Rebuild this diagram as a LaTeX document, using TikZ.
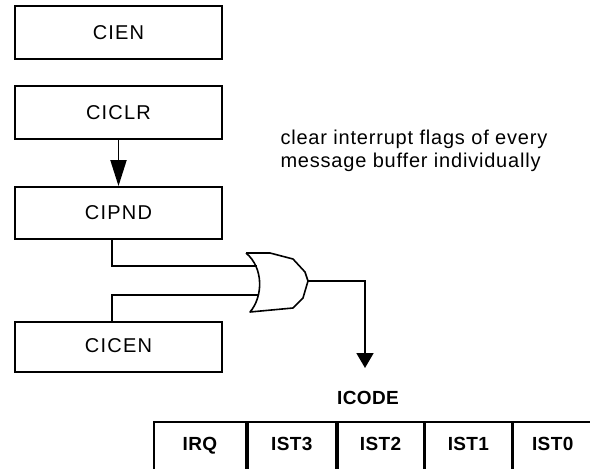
\documentclass[tikz,border=0pt]{standalone}
\usepackage{fontspec}
\setmainfont{Liberation Sans}
\newfontfamily\lblfont{Liberation Sans}[LetterSpace=6]
\newfontfamily\notefont{Liberation Sans}[LetterSpace=4]
\newfontfamily\boldfont{Liberation Sans Bold}[LetterSpace=2]
\usepackage{tikz}
\usetikzlibrary{arrows.meta,positioning}
\definecolor{ink}{RGB}{0,0,0}
\tikzset{
  reg/.style={draw=ink,line width=1.8pt,minimum width=207pt,inner sep=0pt,
    font=\lblfont\fontsize{20}{22}\selectfont},
  cell/.style={draw=ink,line width=1.8pt,minimum height=60pt,inner sep=0pt,
    text depth=16pt,font=\boldfont\fontsize{19}{21}\selectfont},
  wire/.style={line width=1.8pt,ink},
  gate/.style={line width=1.6pt,ink,line join=round},
  arr/.style={-{Triangle[length=26pt,width=16pt]},line width=1.8pt,ink},
  arrs/.style={-{Triangle[length=15pt,width=17pt]},line width=1.8pt,ink},
  note/.style={font=\notefont\fontsize{20}{23}\selectfont,align=left,text=ink},
}
\begin{document}
\begin{tikzpicture}[x=1pt,y=-1pt]
  \clip (0,0) rectangle (590,469);
  % control registers
  \node[reg,minimum height=53pt] (cien) at (118.5,32.5) {CIEN};
  \node[reg,minimum height=53pt] (ciclr) at (118.5,112.5) {CICLR};
  \node[reg,minimum height=52pt] (cipnd) at (118.5,213) {CIPND};
  \node[reg,minimum height=50pt,text height=11pt] (cicen) at (118.5,347) {CICEN};
  \draw[arr] (ciclr) -- (cipnd);
  \node[note,anchor=west] (hint) at (277,151) {clear interrupt flags of every\\message buffer individually};
  % or gate
  \coordinate (tap) at (112,0);
  \coordinate (in1) at (257,266);
  \coordinate (in2) at (259,295);
  \coordinate (gout) at (308,281);
  \coordinate (hd) at (365,368);
  \draw[gate] (246,253) -- (270,253) -- (293,259) -- (305,272) -- (gout)
    -- (303,298) -- (293,308) -- (250,312)
    .. controls (263,297) and (264,268) .. (246,253);
  \draw[wire] (tap |- cipnd.south) |- (in1);
  \draw[wire] (tap |- cicen.north) |- (in2);
  \draw[arrs] (gout) -| (hd);
  % ICODE register
  \node[font=\boldfont\fontsize{19}{21}\selectfont] (icode) at (368,398) {ICODE};
  \node[cell,minimum width=92pt] (irq) at (200,452) {IRQ};
  \node[cell,minimum width=88pt,right=0pt of irq] (ist3) {IST3};
  \node[cell,minimum width=86pt,right=0pt of ist3] (ist2) {IST2};
  \node[cell,minimum width=86pt,right=0pt of ist2] (ist1) {IST1};
  \node[cell,minimum width=79pt,right=0pt of ist1] (ist0) {IST0};
\end{tikzpicture}
\end{document}
